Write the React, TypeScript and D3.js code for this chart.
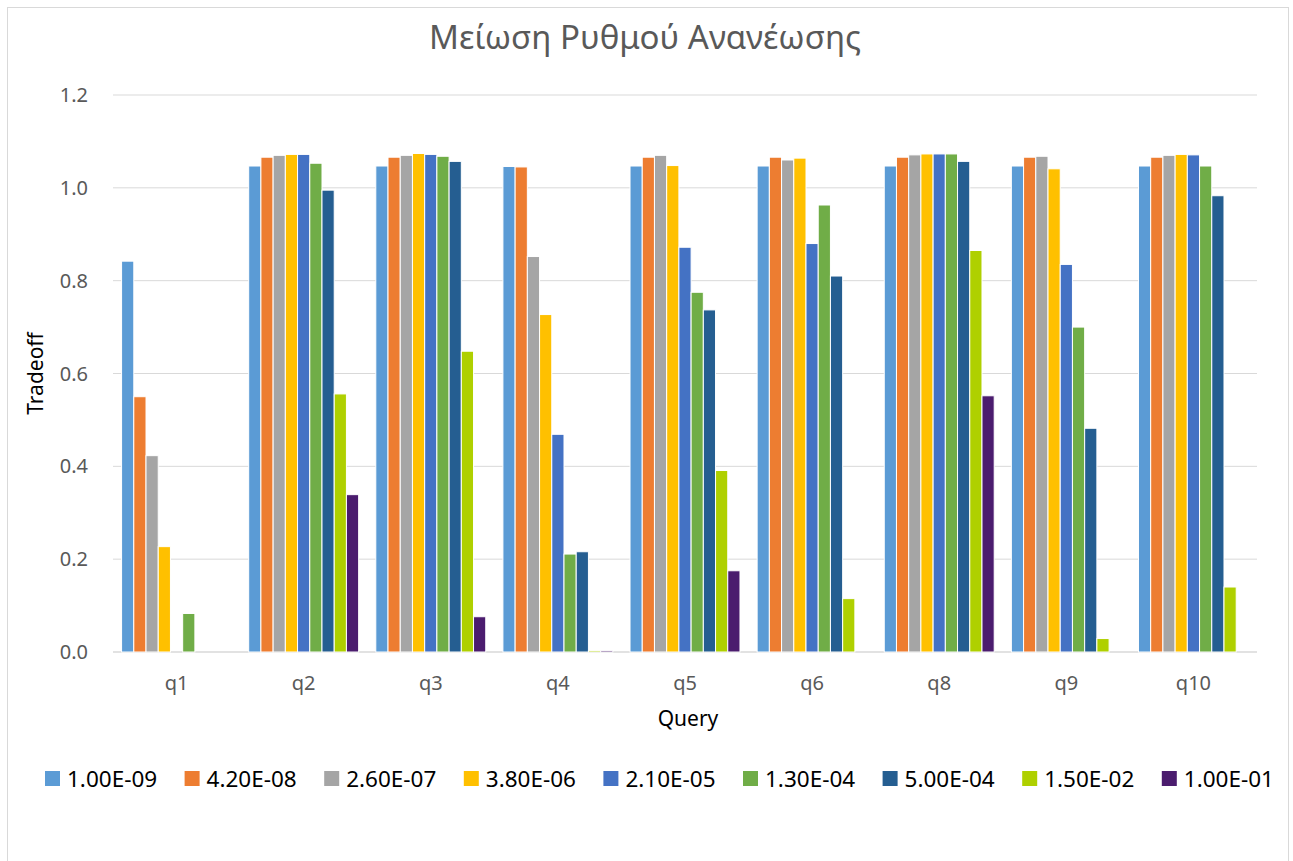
import React from 'react';
import * as d3 from 'd3';

const categories = ['q1', 'q2', 'q3', 'q4', 'q5', 'q6', 'q8', 'q9', 'q10'];
const seriesNames = ['1.00E-09', '4.20E-08', '2.60E-07', '3.80E-06', '2.10E-05', '1.30E-04', '5.00E-04', '1.50E-02', '1.00E-01'];
const seriesColors = ['#5B9BD5', '#ED7D31', '#A5A5A5', '#FFC000', '#4472C4', '#70AD47', '#255E91', '#AFD000', '#4B1C6E'];

// one array per series, values per query
const s1 = [0.842, 1.047, 1.047, 1.046, 1.047, 1.047, 1.047, 1.047, 1.047];
const s2 = [0.550, 1.066, 1.066, 1.045, 1.066, 1.066, 1.066, 1.066, 1.066];
const s3 = [0.423, 1.070, 1.070, 0.852, 1.070, 1.060, 1.071, 1.068, 1.070];
const s4 = [0.227, 1.072, 1.074, 0.727, 1.048, 1.064, 1.073, 1.041, 1.072];
const s5 = [0, 1.072, 1.072, 0.469, 0.872, 0.880, 1.073, 0.835, 1.071];
const s6 = [0.083, 1.053, 1.068, 0.211, 0.775, 0.963, 1.073, 0.700, 1.047];
const s7 = [0, 0.995, 1.057, 0.216, 0.737, 0.810, 1.057, 0.482, 0.983];
const s8 = [0, 0.556, 0.648, 0.003, 0.391, 0.115, 0.865, 0.029, 0.140];
const s9 = [0, 0.339, 0.076, 0.003, 0.175, 0, 0.552, 0, 0];
const seriesValues = [s1, s2, s3, s4, s5, s6, s7, s8, s9];

const yTicks = [0, 0.2, 0.4, 0.6, 0.8, 1.0, 1.2];

const W = 1293;
const H = 861;
const font = '"Noto Sans", "Open Sans", sans-serif';

export default function App() {
  const left = 113;
  const right = 1257;
  const top = 95;
  const bottom = 652;

  const x = d3.scaleBand().domain(categories).range([left, right]).paddingInner(0.135).paddingOuter(0.0675);
  const xInner = d3.scaleBand().domain(seriesNames).range([0, x.bandwidth()]);
  const y = d3.scaleLinear().domain([0, 1.2]).range([bottom, top]);

  const legendStart = 45;
  const legendStep = 139.6;

  return (
    <svg width={W} height={H} style={{ position: 'absolute', left: 0, top: 0, display: 'block' }} fontFamily={font}>
      <rect x={0} y={0} width={W} height={H} fill="#fff" />
      <rect x={7.5} y={7.5} width={1281} height={900} fill="#fff" stroke="#d9d9d9" strokeWidth={1} />

      <text x={645} y={49} textAnchor="middle" fontSize={33} fill="#595959">Μείωση Ρυθμού Ανανέωσης</text>

      {yTicks.map(t => (
        <g key={t}>
          <line x1={left} x2={right} y1={y(t)} y2={y(t)} stroke="#d9d9d9" strokeWidth={t === 0 ? 1.5 : 1} />
          <text x={88} y={y(t)} dy="0.35em" textAnchor="end" fontSize={20} fill="#595959">{t.toFixed(1)}</text>
        </g>
      ))}

      {seriesValues.map((vals, si) => (
        <g key={seriesNames[si]} fill={seriesColors[si]}>
          {vals.map((v, ci) => {
            if (v <= 0) return null;
            const bx = (x(categories[ci]) ?? 0) + (xInner(seriesNames[si]) ?? 0);
            return (
              <rect key={ci} x={bx} y={y(v)} width={xInner.bandwidth()} height={bottom - y(v)}
                stroke="#fff" strokeWidth={1} />
            );
          })}
        </g>
      ))}

      {categories.map(c => (
        <text key={c} x={(x(c) ?? 0) + x.bandwidth() / 2} y={690} textAnchor="middle" fontSize={20} fill="#595959">{c}</text>
      ))}

      <text x={688} y={726} textAnchor="middle" fontSize={21} fill="#000">Query</text>
      <text transform={`translate(43,${(top + bottom) / 2}) rotate(-90)`} textAnchor="middle" fontSize={21} fill="#000">Tradeoff</text>

      {seriesNames.map((n, i) => (
        <g key={n} transform={`translate(${legendStart + i * legendStep},771)`}>
          <rect x={0} y={0} width={15} height={15} fill={seriesColors[i]} />
          <text x={22} y={7.5} dy="0.36em" fontSize={22.5} fill="#000">{n}</text>
        </g>
      ))}
    </svg>
  );
}
